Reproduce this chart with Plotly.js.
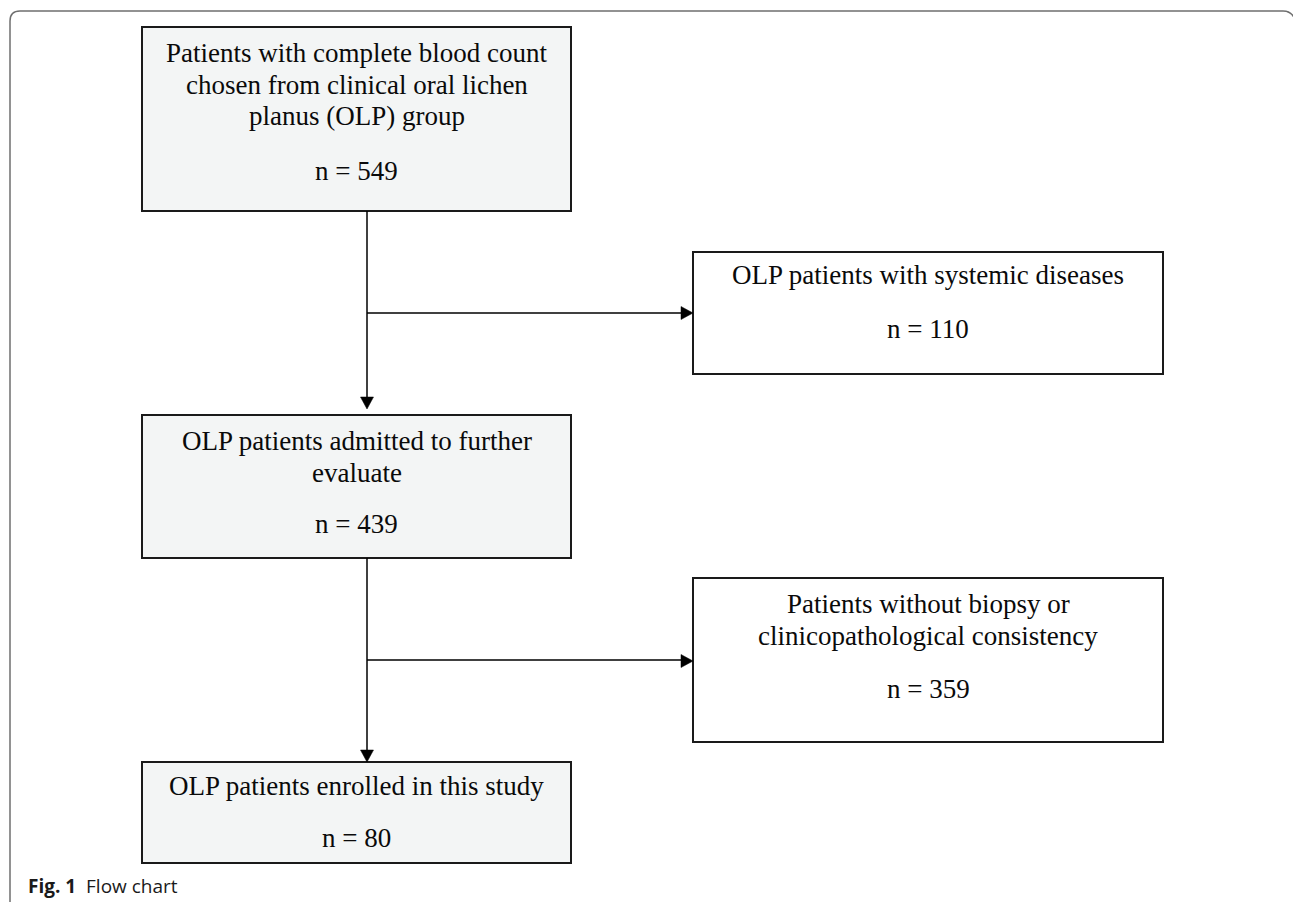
<!DOCTYPE html>
<html>
<head>
<meta charset="utf-8">
<script src="https://cdn.plot.ly/plotly-3.0.1.min.js"></script>
<style>
html,body{margin:0;padding:0;background:#fff;}
#chart{width:1293px;height:902px;}
</style>
</head>
<body>
<div id="chart"></div>
<script>
// ---- data (content only) ----
const stageLines = [
  ["Patients with complete blood count", "chosen from clinical oral lichen", "planus (OLP) group"],
  ["OLP patients with systemic diseases"],
  ["OLP patients admitted to further", "evaluate"],
  ["Patients without biopsy or", "clinicopathological consistency"],
  ["OLP patients enrolled in this study"]
];
const stageCounts = [549, 110, 439, 359, 80];
const captionBold = "Fig. 1";
const captionText = "Flow chart";

// ---- layout geometry (positions / styles) ----
const boxes = [
  {x0:142, x1:571, y0:27,  y1:211, fill:"#f3f5f5", lines:[53,85,116], n:171},
  {x0:693, x1:1163, y0:252, y1:374, fill:"#ffffff", lines:[275], n:329},
  {x0:142, x1:571, y0:415, y1:558, fill:"#f3f5f5", lines:[441,473], n:524},
  {x0:693, x1:1163, y0:578, y1:742, fill:"#ffffff", lines:[604,636], n:689},
  {x0:142, x1:571, y0:762, y1:863, fill:"#f3f5f5", lines:[786], n:838}
];
const spineX = 367;
const serif = "Liberation Serif, Times New Roman, serif";
const fsize = 27;

const shapes = [];
const annotations = [];

// outer frame
shapes.push({type:"path", xref:"x", yref:"y",
  path:"M 10 902 L 10 21 Q 10 11 20 11 L 1283 11 Q 1292 11 1295 20",
  line:{color:"#6f6f6f", width:1.5}, fillcolor:"rgba(0,0,0,0)"});

// boxes and text
boxes.forEach((b, i) => {
  shapes.push({type:"rect", xref:"x", yref:"y", x0:b.x0, x1:b.x1, y0:b.y0, y1:b.y1,
    fillcolor:b.fill, line:{color:"#1a1a1a", width:2}, layer:"below"});
  const cx = (b.x0 + b.x1) / 2;
  stageLines[i].forEach((t, j) => {
    annotations.push({xref:"x", yref:"y", x:cx, y:b.lines[j], text:t, showarrow:false,
      xanchor:"center", yanchor:"middle", font:{family:serif, size:fsize, color:"#0a0a0a"}});
  });
  annotations.push({xref:"x", yref:"y", x:cx, y:b.n, text:"n = " + stageCounts[i], showarrow:false,
    xanchor:"center", yanchor:"middle", font:{family:serif, size:fsize, color:"#0a0a0a"}});
});

// connectors
const lw = 1.5, lc = "#000";
function line(x0,y0,x1,y1){ shapes.push({type:"line", xref:"x", yref:"y", x0, y0, x1, y1, line:{color:lc, width:lw}}); }
function headDown(x, tip){ shapes.push({type:"path", xref:"x", yref:"y",
  path:`M ${x-6.5} ${tip-12} L ${x+6.5} ${tip-12} L ${x} ${tip} Z`, fillcolor:lc, line:{color:lc, width:0.5}}); }
function headRight(tip, y){ shapes.push({type:"path", xref:"x", yref:"y",
  path:`M ${tip-12} ${y-6.5} L ${tip-12} ${y+6.5} L ${tip} ${y} Z`, fillcolor:lc, line:{color:lc, width:0.5}}); }

line(spineX, 211, spineX, 398);
headDown(spineX, 409);
line(spineX, 313, 682, 313);
headRight(693, 313);

line(spineX, 558, spineX, 750);
headDown(spineX, 762);
line(spineX, 660, 682, 660);
headRight(693, 661);

// caption
annotations.push({xref:"x", yref:"y", x:26, y:886, xanchor:"left", yanchor:"middle", showarrow:false,
  text:"<b>" + captionBold + "</b>&nbsp;&nbsp;" + captionText,
  font:{family:"Open Sans, Noto Sans, sans-serif", size:19, color:"#1a1a1a"}});

const layout = {
  width:1293, height:902,
  margin:{l:0, r:0, t:0, b:0, pad:0},
  paper_bgcolor:"#ffffff", plot_bgcolor:"#ffffff",
  xaxis:{range:[0,1293], visible:false, fixedrange:true},
  yaxis:{range:[902,0], visible:false, fixedrange:true},
  shapes, annotations, showlegend:false
};
Plotly.newPlot("chart", [], layout, {displayModeBar:false, staticPlot:true});
</script>
</body>
</html>
